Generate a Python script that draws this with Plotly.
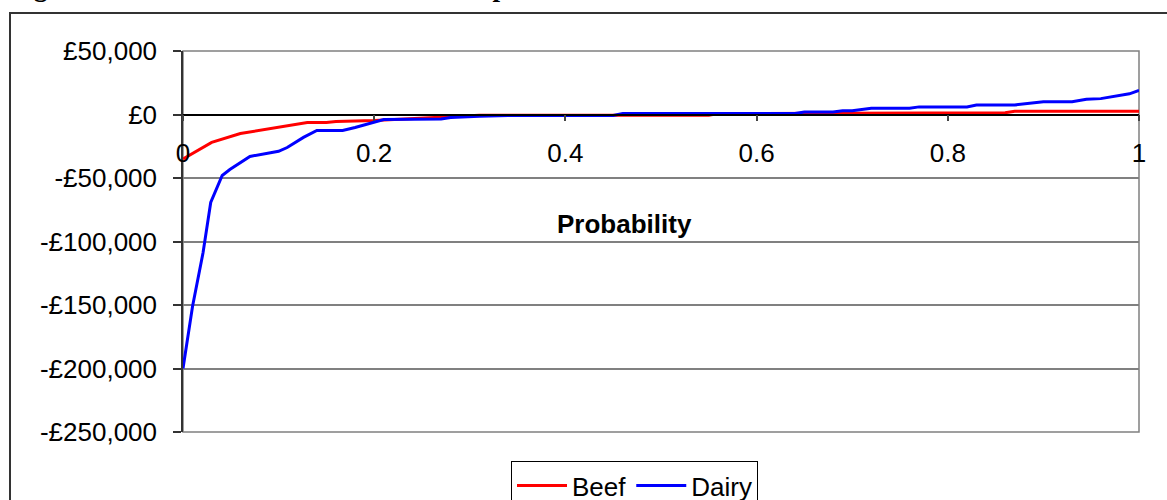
import plotly.graph_objects as go

# ---- data ----
beef_x = [0, 0.03, 0.06, 0.08, 0.11, 0.13, 0.15, 0.16, 0.2, 0.22, 0.25, 0.28, 0.31, 0.34, 0.45, 0.55, 0.56, 0.7, 0.86, 0.87, 1.0]
beef_y = [-35000, -22000, -15000, -12600, -8700, -6300, -6300, -5500, -4700, -4000, -2700, -1500, -600, -500, -500, -500, 800, 1000, 1300, 2600, 2600]

dairy_x = [0, 0.01, 0.021, 0.029, 0.041, 0.049, 0.07, 0.1, 0.109, 0.126, 0.14, 0.167, 0.18, 0.21, 0.27, 0.28,
           0.31, 0.34, 0.45, 0.46, 0.64, 0.65, 0.68, 0.69, 0.7, 0.72, 0.76, 0.77, 0.82, 0.83, 0.87, 0.88,
           0.9, 0.93, 0.945, 0.96, 0.977, 0.99, 1.0]
dairy_y = [-200000, -151000, -108700, -69300, -48000, -43300, -33000, -29000, -26000, -18000, -12600, -12600,
           -10200, -3900, -3500, -2400, -1300, -800, -800, 800, 800, 2000, 2000, 3000, 3000, 5000, 5000, 6000,
           6000, 7500, 7500, 8500, 10000, 10000, 12000, 12500, 14400, 16300, 19000]

y_tickvals = [50000, 0, -50000, -100000, -150000, -200000, -250000]
y_ticktext = ["£50,000", "£0", "-£50,000", "-£100,000", "-£150,000", "-£200,000", "-£250,000"]
x_tickvals = [0, 0.2, 0.4, 0.6, 0.8, 1]
x_ticktext = ["0", "0.2", "0.4", "0.6", "0.8", "1"]

title_text = "Figure 10: Cumulative distribution of net profit"
x_title = "Probability"

# ---- layout geometry ----
W, H = 1167, 500
ML, MR, MT, MB = 183, 28, 51, 68
PW = W - ML - MR
PH = H - MT - MB
YMIN, YMAX = -250000, 50000

def px_to_paper_x(px):
    return (px - ML) / PW

def px_to_paper_y(py):
    return (H - MB - py) / PH

font = "Liberation Sans, Arial, sans-serif"
FS = 26

fig = go.Figure()
fig.add_trace(go.Scatter(x=beef_x, y=beef_y, mode="lines", name="Beef",
                         line=dict(color="#FF0000", width=3)))
fig.add_trace(go.Scatter(x=dairy_x, y=dairy_y, mode="lines", name="Dairy",
                         line=dict(color="#0000FF", width=3)))

zero_pos = (0 - YMIN) / (YMAX - YMIN)

fig.update_layout(
    width=W, height=H,
    margin=dict(l=ML, r=MR, t=MT, b=MB, pad=0, autoexpand=False),
    paper_bgcolor="white", plot_bgcolor="white",
    font=dict(family=font, size=FS, color="black"),
    showlegend=True,
    legend=dict(orientation="h", x=px_to_paper_x(511), y=px_to_paper_y(461),
                xanchor="left", yanchor="top",
                bordercolor="black", borderwidth=1, bgcolor="white",
                font=dict(family=font, size=FS, color="black"),
                itemwidth=50, tracegroupgap=0),
    xaxis=dict(range=[0, 1], tickvals=x_tickvals, ticktext=x_ticktext,
               showgrid=False, zeroline=False,
               showline=True, linecolor="black", linewidth=1.5,
               ticks="outside", ticklen=6, tickcolor="#444", tickwidth=1.5,
               anchor="free", position=zero_pos,
               ticklabelstandoff=10,
               tickfont=dict(family=font, size=FS, color="black")),
    yaxis=dict(range=[YMIN, YMAX], tickvals=y_tickvals, ticktext=y_ticktext,
               showgrid=True, gridcolor="#808080", gridwidth=1.5,
               zeroline=False,
               showline=True, linecolor="#333", linewidth=1.5,
               ticks="outside", ticklen=8, tickcolor="#333", tickwidth=1.5,
               ticklabelstandoff=11,
               tickfont=dict(family=font, size=FS, color="black")),
    shapes=[
        dict(type="rect", xref="paper", yref="paper", x0=0, x1=1, y0=0, y1=1,
             line=dict(color="#808080", width=1.5), layer="below"),
        dict(type="line", xref="paper", yref="y", x0=0, x1=1, y0=-200000, y1=-200000,
             line=dict(color="black", width=1.2), layer="below"),
        dict(type="rect", xref="paper", yref="paper",
             x0=px_to_paper_x(10), x1=px_to_paper_x(1200),
             y0=px_to_paper_y(540), y1=px_to_paper_y(13),
             line=dict(color="#333", width=2), layer="below"),
    ],
    annotations=[
        dict(text="<b>" + x_title + "</b>", xref="paper", yref="paper",
             x=px_to_paper_x(624), y=px_to_paper_y(224), xanchor="center", yanchor="middle",
             showarrow=False, font=dict(family=font, size=FS, color="black")),
        dict(text="<b>" + title_text + "</b>", xref="paper", yref="paper",
             x=px_to_paper_x(8), y=px_to_paper_y(-13.5), xanchor="left", yanchor="middle",
             showarrow=False, font=dict(family="Liberation Serif, Times New Roman, serif", size=27, color="black")),
    ],
)

fig.write_html("out.html", config={"displayModeBar": False},
               post_script="document.body.style.margin='0';document.body.style.overflow='hidden';")
